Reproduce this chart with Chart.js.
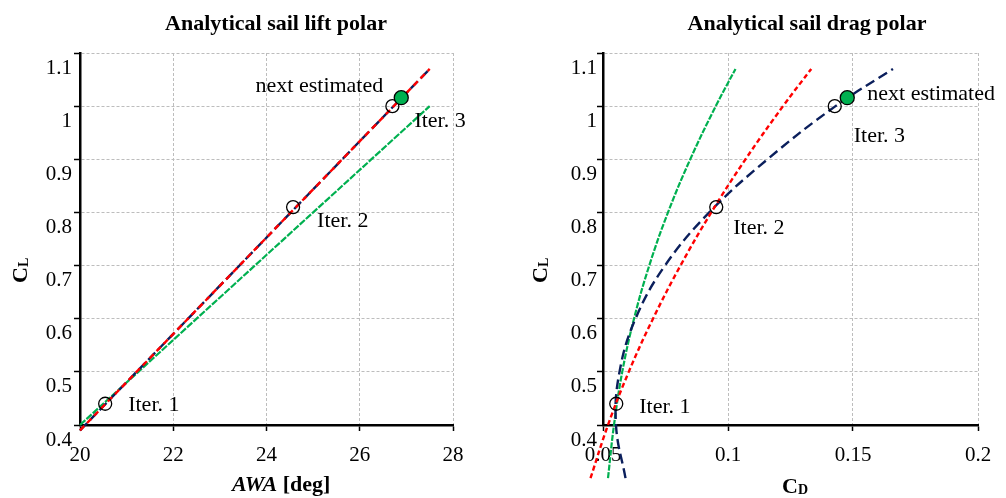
<!DOCTYPE html>
<html>
<head>
<meta charset="utf-8">
<script src="https://cdn.jsdelivr.net/npm/chart.js@4/dist/chart.umd.min.js"></script>
<style>
  html, body { margin: 0; padding: 0; background: #fff; }
  #wrap { position: relative; width: 1006px; height: 498px; }
  canvas { position: absolute; top: 0; }
  #lift { left: 0; }
  #drag { left: 503px; }
</style>
</head>
<body>
<div id="wrap">
  <canvas id="lift" width="503" height="498"></canvas>
  <canvas id="drag" width="503" height="498"></canvas>
</div>
<script>
// ---- axis ticks ----
const awaTicks = [20, 22, 24, 26, 28];
const awaTickLabels = ['20', '22', '24', '26', '28'];
const clTicks = [0.4, 0.5, 0.6, 0.7, 0.8, 0.9, 1.0, 1.1];
const clTickLabels = ['0.4', '0.5', '0.6', '0.7', '0.8', '0.9', '1', '1.1'];
const cdTicks = [0.05, 0.1, 0.15, 0.2];
const cdTickLabels = ['0.05', '0.1', '0.15', '0.2'];

// ---- lift polar lines (AWA in deg, C_L) ----
const liftAwa = [20, 27.5];
const liftClGreen = [0.40, 1.00];
const liftClRed = [0.39, 1.07];
const liftClBlue = [0.39, 1.07];

// ---- drag polar curves (C_L levels and C_D of each curve) ----
const dragCl = [0.30, 0.40, 0.50, 0.60, 0.70, 0.80, 0.90, 1.00, 1.07];
const dragCdGreen = [0.0520, 0.0544, 0.0577, 0.0624, 0.0685, 0.0760, 0.0849, 0.0951, 0.1030];
const dragCdRed = [0.0450, 0.0520, 0.0603, 0.0700, 0.0810, 0.0933, 0.1070, 0.1220, 0.1333];
const dragCdBlue = [0.0590, 0.0552, 0.0566, 0.0630, 0.0748, 0.0925, 0.1158, 0.1430, 0.1660];

// ---- iteration points ----
const iterLabels = ['Iter. 1', 'Iter. 2', 'Iter. 3'];
const iterAwa = [20.54, 24.57, 26.70];
const iterCl = [0.44, 0.81, 1.00];
const iterCd = [0.0553, 0.0953, 0.1427];
const nextLabel = 'next estimated';
const nextAwa = 26.89;
const nextCl = 1.016;
const nextCd = 0.1477;

const SERIF = '"Liberation Serif", "Times New Roman", serif';
const GREEN = '#00b050';
const RED = '#ff0000';
const NAVY = '#0b1f5c';
const GRID = '#bdbdbd';

const pts = (xs, ys) => xs.map((v, i) => ({ x: v, y: ys[i] }));

// Text drawn on top of each chart: title, axis titles with subscripts, point notes
function decorPlugin(cfg) {
  return {
    id: 'decor',
    afterDraw(chart) {
      const { ctx } = chart;
      const xs = chart.scales.x, ys = chart.scales.y;
      ctx.save();
      ctx.fillStyle = '#000';

      ctx.font = `bold 22px ${SERIF}`;
      ctx.textAlign = 'center';
      ctx.textBaseline = 'alphabetic';
      ctx.fillText(cfg.title, cfg.titleX, 30);

      // vertical axis title: C with subscript L
      ctx.save();
      ctx.translate(cfg.yTitle[0], cfg.yTitle[1]);
      ctx.rotate(-Math.PI / 2);
      ctx.textAlign = 'left';
      ctx.font = `bold 22px ${SERIF}`;
      ctx.fillText('C', 0, 0);
      const wc = ctx.measureText('C').width;
      ctx.font = `bold 14px ${SERIF}`;
      ctx.fillText('L', wc, 1);
      ctx.restore();

      // horizontal axis title
      ctx.textAlign = 'left';
      let px = cfg.xTitle[0];
      cfg.xTitleParts.forEach(p => {
        ctx.font = `${p.style} ${SERIF}`;
        ctx.fillText(p.text, px, cfg.xTitle[1] + (p.shift || 0));
        px += ctx.measureText(p.text).width;
      });

      // notes next to the points
      ctx.font = `22px ${SERIF}`;
      ctx.textBaseline = 'middle';
      cfg.notes.forEach(n => {
        ctx.textAlign = n.align;
        ctx.fillText(n.text, xs.getPixelForValue(n.x) + n.dx, ys.getPixelForValue(n.y) + n.dy);
      });
      ctx.restore();
    }
  };
}

function axis(ticks, labels, opts) {
  return Object.assign({
    type: 'linear',
    min: ticks[0],
    max: ticks[ticks.length - 1],
    afterBuildTicks: s => { s.ticks = ticks.map(v => ({ value: v })); },
    grid: { color: GRID, lineWidth: 1, drawTicks: true, tickLength: 6, tickColor: '#000', tickWidth: 1.5 },
    border: { display: true, color: '#000', width: 2.5, dash: [3, 2] },
  }, opts, {
    ticks: Object.assign({
      color: '#000',
      font: { family: SERIF, size: 21 },
      callback: (v, i) => labels[i],
      autoSkip: false,
      maxRotation: 0,
    }, opts.ticks || {})
  });
}

function lineSet(data, color, dash, width) {
  return {
    data, showLine: true, borderColor: color, borderWidth: width, borderDash: dash,
    pointRadius: 0, tension: 0.4, clip: false, fill: false
  };
}

function markerSets(iterData, nextData) {
  return [
    { data: nextData, showLine: false, pointRadius: 7, pointBackgroundColor: GREEN,
      pointBorderColor: '#000', pointBorderWidth: 1.3, clip: false },
    { data: iterData, showLine: false, pointRadius: 6.5, pointBackgroundColor: 'rgba(0,0,0,0)',
      pointBorderColor: '#000', pointBorderWidth: 1.3, clip: false },
  ];
}

new Chart(document.getElementById('lift'), {
  type: 'scatter',
  data: {
    datasets: [
      ...markerSets(pts(iterAwa, iterCl), [{ x: nextAwa, y: nextCl }]),
      lineSet(pts(liftAwa, liftClRed), RED, [6, 4], 2.4),
      lineSet(pts(liftAwa, liftClBlue), NAVY, [10, 4], 2.4),
      lineSet(pts(liftAwa, liftClGreen), GREEN, [7, 1.5], 2.2),
    ]
  },
  options: {
    responsive: false, animation: false, devicePixelRatio: 1,
    layout: { padding: { left: 0, right: 50, top: 53, bottom: 0 } },
    plugins: { legend: { display: false }, tooltip: { enabled: false } },
    scales: {
      x: axis(awaTicks, awaTickLabels, { afterFit: s => { s.height = 73; }, ticks: { padding: 12 } }),
      y: axis(clTicks, clTickLabels, { afterFit: s => { s.width = 80; }, ticks: { padding: 2, labelOffset: 15 } }),
    }
  },
  plugins: [decorPlugin({
    title: 'Analytical sail lift polar', titleX: 276,
    yTitle: [27, 283],
    xTitle: [232, 491],
    xTitleParts: [{ text: 'AWA', style: 'italic bold 22px' }, { text: ' [deg]', style: 'bold 22px' }],
    notes: [
      { text: iterLabels[0], x: iterAwa[0], y: iterCl[0], dx: 23, dy: 1, align: 'left' },
      { text: iterLabels[1], x: iterAwa[1], y: iterCl[1], dx: 24, dy: 14, align: 'left' },
      { text: iterLabels[2], x: iterAwa[2], y: iterCl[2], dx: 22, dy: 15, align: 'left' },
      { text: nextLabel, x: nextAwa, y: nextCl, dx: -18, dy: -11, align: 'right' },
    ]
  })]
});

new Chart(document.getElementById('drag'), {
  type: 'scatter',
  data: {
    datasets: [
      ...markerSets(pts(iterCd, iterCl), [{ x: nextCd, y: nextCl }]),
      lineSet(pts(dragCdRed, dragCl), RED, [5, 3], 2.4),
      lineSet(pts(dragCdBlue, dragCl), NAVY, [10, 5], 2.4),
      lineSet(pts(dragCdGreen, dragCl), GREEN, [6, 1.5], 2.2),
    ]
  },
  options: {
    responsive: false, animation: false, devicePixelRatio: 1,
    layout: { padding: { left: 0, right: 28, top: 53, bottom: 0 } },
    plugins: { legend: { display: false }, tooltip: { enabled: false } },
    scales: {
      x: axis(cdTicks, cdTickLabels, { afterFit: s => { s.height = 73; }, ticks: { padding: 12 } }),
      y: axis(clTicks, clTickLabels, { afterFit: s => { s.width = 100; }, ticks: { padding: 0, labelOffset: 15 } }),
    }
  },
  plugins: [decorPlugin({
    title: 'Analytical sail drag polar', titleX: 304,
    yTitle: [44, 283],
    xTitle: [279, 493],
    xTitleParts: [{ text: 'C', style: 'bold 22px' }, { text: 'D', style: 'bold 14px', shift: 1 }],
    notes: [
      { text: iterLabels[0], x: iterCd[0], y: iterCl[0], dx: 23, dy: 3, align: 'left' },
      { text: iterLabels[1], x: iterCd[1], y: iterCl[1], dx: 17, dy: 21, align: 'left' },
      { text: iterLabels[2], x: iterCd[2], y: iterCl[2], dx: 19, dy: 30, align: 'left' },
      { text: nextLabel, x: nextCd, y: nextCl, dx: 20, dy: -3, align: 'left' },
    ]
  })]
});
</script>
</body>
</html>
